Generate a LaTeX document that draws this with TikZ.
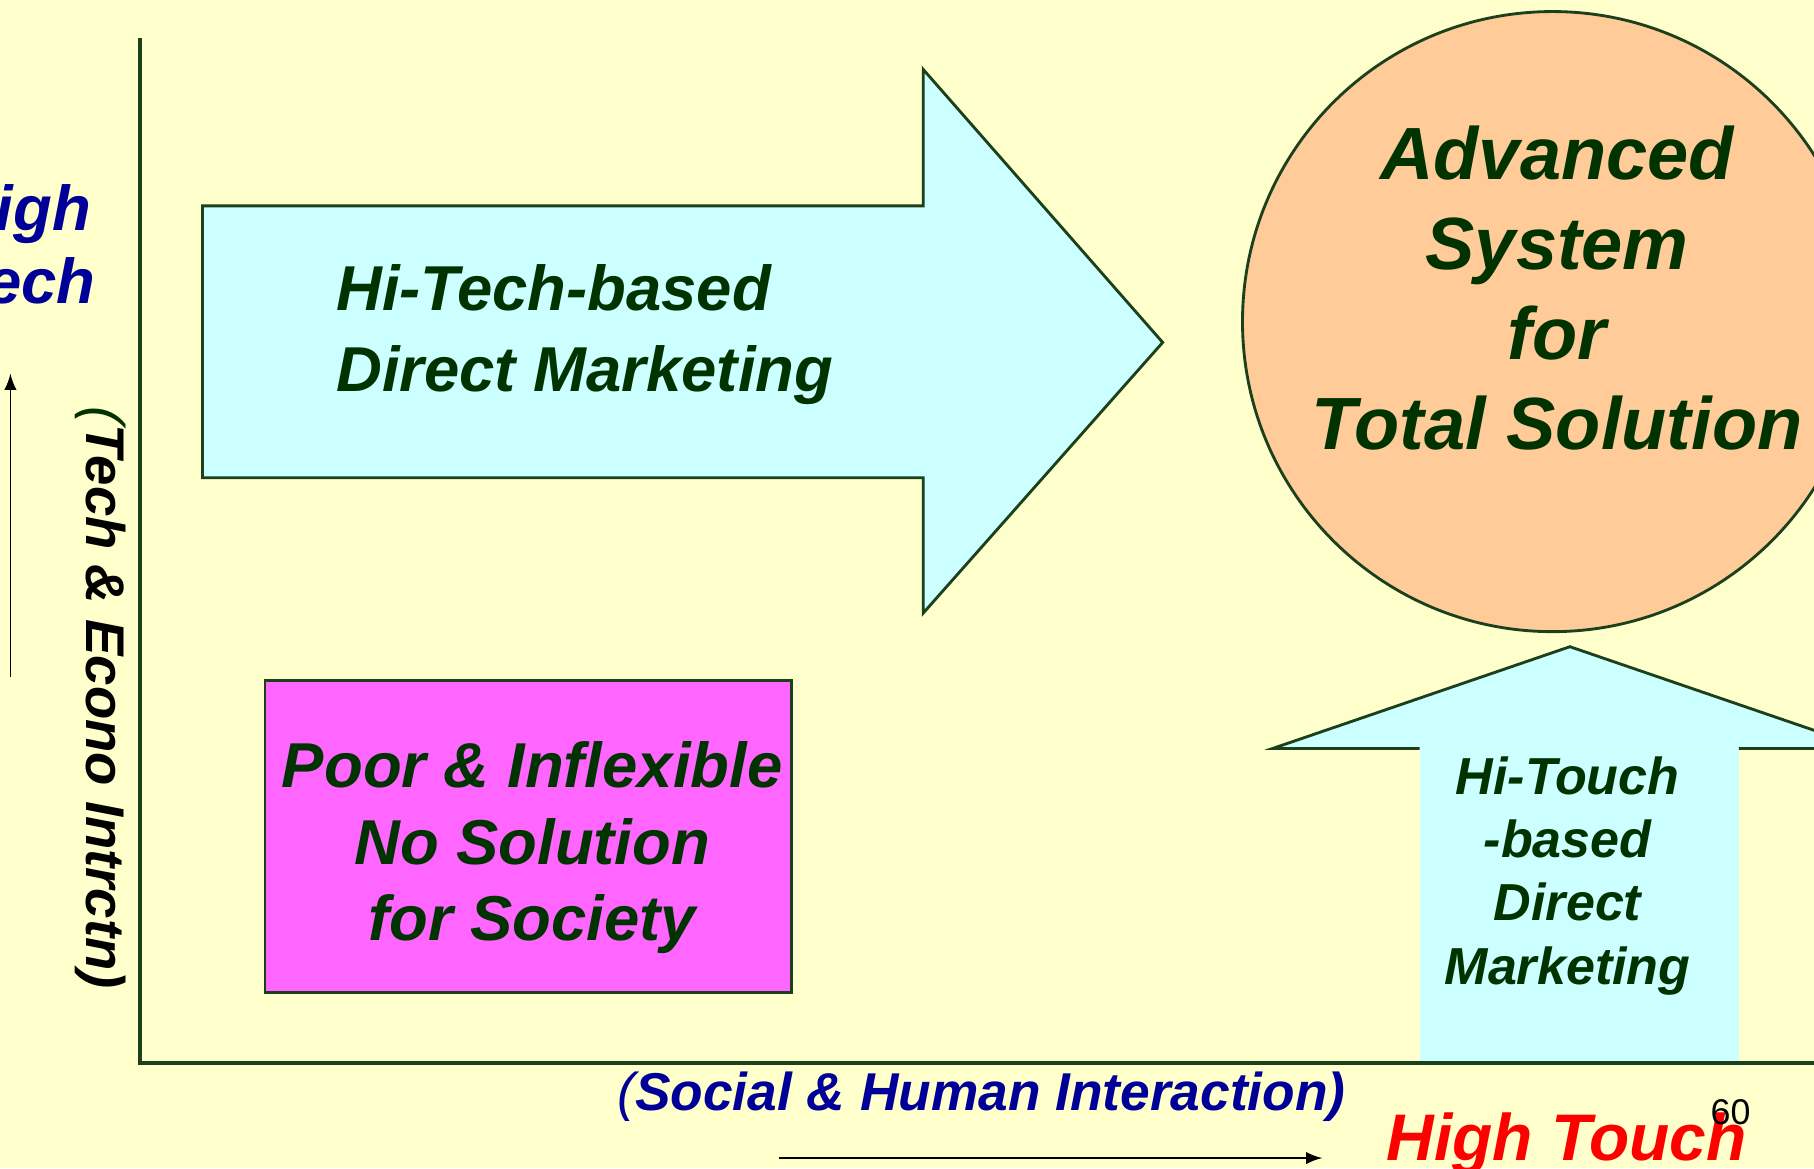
\documentclass[tikz,border=0pt]{standalone}
\usepackage{fontspec}
\setmainfont{Liberation Sans}
\usetikzlibrary{arrows}
\definecolor{bgyellow}{HTML}{FFFFCC}
\definecolor{arrowcyan}{HTML}{CCFFFF}
\definecolor{peach}{HTML}{FFCC99}
\definecolor{boxpink}{HTML}{FF66FF}
\definecolor{darkgreen}{HTML}{003300}
\definecolor{linegreen}{HTML}{1C3F1C}
\definecolor{navy}{HTML}{000099}
\tikzset{
  outline/.style={draw=linegreen,line width=0.7pt},
  axisline/.style={draw=linegreen,line width=0.9pt},
  boxtext/.style={inner sep=0pt,text=darkgreen},
}

\begin{document}
\begin{tikzpicture}[x=0.1mm,y=-0.1mm]
      		\useasboundingbox (0,0) rectangle (1568,1010);
      		\clip (0,0) rectangle (1568,1010);
      		\fill[bgyellow] (0,0) rectangle (1568,1010);
		    % big arrow pointing right
      		\draw[outline,fill=arrowcyan] (175,178) -- (798,178) -- (798,60) -- (1005,296) -- (798,530) -- (798,413) -- (175,413) -- cycle;
      		\node[boxtext,align=left,anchor=west,font=\fontsize{15.6}{19.9}\selectfont\bfseries\itshape] (hitech) at (290,289) {Hi-Tech-based\\Direct Marketing};
		    % goal circle
      		\draw[outline,fill=peach] (1342,278) circle[radius=268];
      		\node[boxtext,align=center,font=\fontsize{18.2}{22.2}\selectfont\bfseries\itshape] (advanced) at (1346,249) {Advanced\\System\\for\\Total Solution};
		    % lower left box
      		\draw[outline,fill=boxpink] (229,588) rectangle (684,858);
      		\node[boxtext,align=center,font=\fontsize{15.6}{18.8}\selectfont\bfseries\itshape] (poor) at (460,733) {Poor \& Inflexible\\No Solution\\for Society};
		    % arrow pointing up
      		\fill[arrowcyan] (1227,647) rectangle (1503,919);
      		\draw[outline,fill=arrowcyan] (1503,647) -- (1614,647) -- (1357,559) -- (1100,647) -- (1227,647);
      		\node[boxtext,align=center,font=\fontsize{12.8}{15.6}\selectfont\bfseries\itshape] (hitouch) at (1355,757) {Hi-Touch\\-based\\Direct\\Marketing};
		    % axes
      		\coordinate (top) at (121,33);
      		\coordinate (origin) at (121,919);
      		\coordinate (right) at (1568,919);
      		\draw[axisline] (top) -- (origin) -- (right);
		    % axis labels
      		\node[inner sep=0pt,text=navy,align=left,anchor=west,font=\fontsize{15.6}{17.9}\selectfont\bfseries\itshape] (hightech) at (-44,211) {High\\Tech};
      		\coordinate (up0) at (9,585);
      		\coordinate (up1) at (9,323);
      		\draw[-latex] (up0) -- (up1);
      		\node[inner sep=0pt,rotate=-90,font=\fontsize{13.4}{16}\selectfont\bfseries\itshape] (techecono) at (87,603) {{\mdseries\color{darkgreen}(}Tech \& Econo Intrctn)};
      		\node[inner sep=0pt,text=navy,anchor=base west,font=\fontsize{13.1}{16}\selectfont\bfseries\itshape] (social) at (533,959.5) {{\mdseries(}Social \& Human Interaction)};
      		\coordinate (right0) at (673,1001);
      		\coordinate (right1) at (1143,1001);
      		\draw[-latex] (right0) -- (right1);
      		\node[inner sep=0pt,text=red,anchor=base,font=\fontsize{16.2}{19}\selectfont\bfseries\itshape] (hightouch) at (1354,1003) {High Touch};
      		\node[inner sep=0pt,anchor=base west,font=\fontsize{8.8}{10}\selectfont] (page) at (1478,971.6) {60};
    	\end{tikzpicture}
\end{document}
